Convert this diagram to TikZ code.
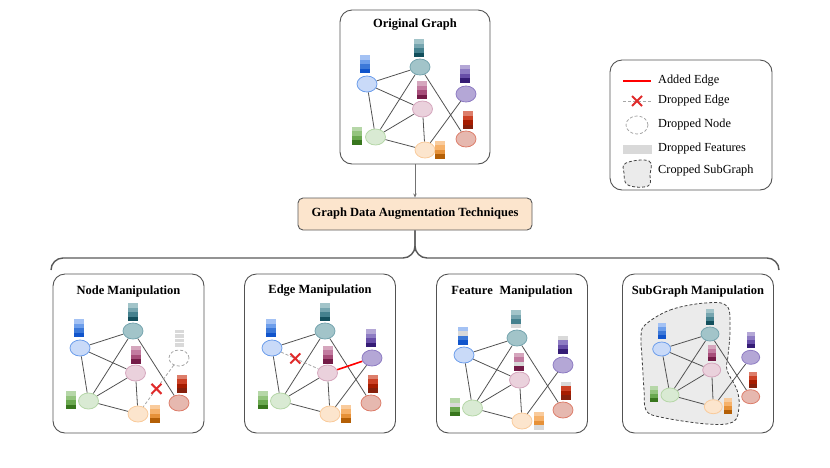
\documentclass[tikz,border=0pt]{standalone}
\usepackage{fontspec}
\setmainfont{Liberation Serif}
\usetikzlibrary{shapes.geometric,arrows.meta,calc}
\definecolor{b1}{HTML}{A4C2F4}\definecolor{b2}{HTML}{6D9EEB}\definecolor{b3}{HTML}{3C78D8}\definecolor{b4}{HTML}{1155CC}
\definecolor{t1}{HTML}{A2C4C9}\definecolor{t2}{HTML}{76A5AF}\definecolor{t3}{HTML}{45818E}\definecolor{t4}{HTML}{134F5C}
\definecolor{p1}{HTML}{B4A7D6}\definecolor{p2}{HTML}{8E7CC3}\definecolor{p3}{HTML}{674EA7}\definecolor{p4}{HTML}{351C75}
\definecolor{k1}{HTML}{D5A6BD}\definecolor{k2}{HTML}{C27BA0}\definecolor{k3}{HTML}{A64D79}\definecolor{k4}{HTML}{741B47}
\definecolor{g1}{HTML}{B6D7A8}\definecolor{g2}{HTML}{93C47D}\definecolor{g3}{HTML}{6AA84F}\definecolor{g4}{HTML}{38761D}
\definecolor{o1}{HTML}{F9CB9C}\definecolor{o2}{HTML}{F6B26B}\definecolor{o3}{HTML}{E69138}\definecolor{o4}{HTML}{B45F06}
\definecolor{r1}{HTML}{DD7E6B}\definecolor{r2}{HTML}{CC4125}\definecolor{r3}{HTML}{A61C00}\definecolor{r4}{HTML}{85200C}
\definecolor{dg}{HTML}{D9D9D9}
\definecolor{nbf}{HTML}{C9DAF8}\definecolor{ntf}{HTML}{A2C4C9}\definecolor{npf}{HTML}{B4A7D6}
\definecolor{nkf}{HTML}{EAD1DC}\definecolor{ngf}{HTML}{D9EAD3}\definecolor{nof}{HTML}{FCE5CD}\definecolor{nrf}{HTML}{E6B8AF}
\definecolor{peach}{HTML}{FCE5CD}\definecolor{xred}{HTML}{E02B2B}\definecolor{blobgray}{HTML}{EBEBEB}
\pgfdeclarelayer{blobs}\pgfdeclarelayer{edges}\pgfsetlayers{blobs,edges,main}
\def\bw{10}\def\bh{18}
\newcommand\fbar[6]{\foreach[count=\i] \c in {#3,#4,#5,#6}{\fill[\c] ({#1-\bw/2},{#2-\bh/2+(\i-1)*\bh/4}) rectangle ++(\bw,{\bh/4+0.15});}}
\newcommand\gbar[2]{\foreach \i in {1,2,3,4}{\fill[dg,draw=white,line width=0.25pt] ({#1-\bw/2},{#2-\bh/2+(\i-1)*\bh/4}) rectangle ++(\bw,\bh/4);}}
\newcommand\stdedges[1]{\begin{pgfonlayer}{edges}\draw[gedge] (#1B)--(#1T) (#1B)--(#1G) (#1T)--(#1G) (#1T)--(#1R) (#1K)--(#1G) (#1K)--(#1O) (#1G)--(#1O);\end{pgfonlayer}}
\newcommand\stdnodes[3]{\begin{scope}[shift={(#2,#3)}]
 \node[gnode,nb] (#1B) at (27,74) {};
 \node[gnode,nt] (#1T) at (80,57) {};
 \node[gnode,nk] (#1K) at (82.5,99) {};
 \node[gnode,ng] (#1G) at (35.5,127) {};
 \node[gnode,no] (#1O) at (85,140) {};
 \node[gnode,nr] (#1R) at (126,129) {};
\end{scope}}
\newcommand\xcross[1]{\draw[xmark] ($(#1)+(-5,-5)$) -- ($(#1)+(5,5)$) ($(#1)+(-5,5)$) -- ($(#1)+(5,-5)$);}
\begin{document}
\begin{tikzpicture}[x=1pt,y=-1pt,font=\fontsize{12.3}{14}\selectfont,
 panel/.style={draw=black!68,line width=0.9pt,rounded corners=12pt,inner sep=0pt},
 title/.style={font=\fontsize{12.5}{14}\selectfont\bfseries,inner sep=0pt},
 gnode/.style={ellipse,minimum width=20pt,minimum height=16pt,inner sep=0pt,line width=0.8pt},
 gedge/.style={draw=black!68,line width=0.8pt},
 dropedge/.style={draw=black!35,line width=0.8pt,dash pattern=on 3pt off 2pt},
 addedge/.style={draw=red,line width=1.6pt},
 xmark/.style={draw=xred,line width=2pt},
 brace/.style={draw=black!65,line width=1.4pt,rounded corners=12pt},
 legtext/.style={anchor=west,inner sep=0pt},
 nb/.style={fill=nbf,draw=b2},nt/.style={fill=ntf,draw=t2},np/.style={fill=npf,draw=p2},
 nk/.style={fill=nkf,draw=k1},ng/.style={fill=ngf,draw=g1},no/.style={fill=nof,draw=o1},nr/.style={fill=nrf,draw=r1},
 dropnode/.style={fill=white,draw=black!35,dash pattern=on 3pt off 2pt}]
\useasboundingbox (0,0) rectangle (830,467);

% ---------- Original graph ----------
\node[panel,minimum width=150pt,minimum height=154pt] (orig) at (415,87) {};
\node[title] (origT) at (415,25) {Original Graph};
\stdnodes{o}{340}{10}
\node[gnode,np] (oP) at (466,94) {};
\stdedges{o}
\begin{pgfonlayer}{edges}\draw[gedge] (oB)--(oK) (oP)--(oO);\end{pgfonlayer}
\begin{scope}[shift={(340,10)}]
 \fbar{25}{54}{b1}{b2}{b3}{b4}
 \fbar{79}{38}{t1}{t2}{t3}{t4}
 \fbar{125}{63.5}{p1}{p2}{p3}{p4}
 \fbar{82}{80}{k1}{k2}{k3}{k4}
 \fbar{17}{125.5}{g1}{g2}{g3}{g4}
 \fbar{100}{139.5}{o1}{o2}{o3}{o4}
 \fbar{128}{110}{r1}{r2}{r3}{r4}
\end{scope}

% ---------- central box and brace ----------
\node[draw=black!65,line width=0.9pt,fill=peach,rounded corners=5pt,minimum width=234pt,minimum height=32pt,font=\fontsize{12.5}{14}\selectfont\bfseries] (gda) at (415,214) {Graph Data Augmentation Techniques};
\draw[draw=black!55,line width=0.8pt,-{Stealth[length=4pt,width=3.5pt]}] (orig.south) -- (gda.north);
\coordinate (brL) at (51,270);
\coordinate (brR) at (779,270);
\coordinate (brM) at (415,258);
\draw[brace] (brL) |- (brM) -- (gda.south);
\draw[brace] (brR) |- (brM) -- (gda.south);

% ---------- Legend ----------
\node[panel,minimum width=162pt,minimum height=130pt] (leg) at (691,125) {};
\coordinate (la1) at (623,81); \coordinate (la2) at (651,81);
\draw[addedge] (la1) -- (la2);
\node[legtext] (lt1) at (658,81) {Added Edge};
\coordinate (ld1) at (623,101); \coordinate (ld2) at (651,101); \coordinate (ldx) at (637,101);
\draw[dropedge] (ld1) -- (ld2);
\xcross{ldx}
\node[legtext] (lt2) at (658,101) {Dropped Edge};
\node[ellipse,minimum width=22pt,minimum height=18pt,inner sep=0pt,line width=0.8pt,dropnode] (lnode) at (637,125) {};
\node[legtext] (lt3) at (658,125) {Dropped Node};
\fill[dg] (623,145) rectangle (652,154);
\node[legtext] (lt4) at (658,149) {Dropped Features};
\draw[fill=blobgray,draw=black!75,line width=0.8pt,dash pattern=on 3pt off 2pt] plot[smooth cycle,tension=0.7] coordinates {(626,163) (649,161) (650,175) (648,186) (628,185) (624,173)};
\node[legtext] (lt5) at (658,171) {Cropped SubGraph};

% ---------- Node manipulation ----------
\node[panel,minimum width=151pt,minimum height=159pt] (pn) at (128.5,353.5) {};
\node[title] (pnT) at (128.5,291) {Node Manipulation};
\stdnodes{n}{53}{274}
\node[gnode,dropnode] (nP) at (179,358) {};
\stdedges{n}
\begin{pgfonlayer}{edges}\draw[gedge] (nB)--(nK); \draw[dropedge] (nP)--(nO);\end{pgfonlayer}
\coordinate (nX) at ($(nO)!0.45!(nP)$);
\xcross{nX}
\begin{scope}[shift={(53,274)}]
 \fbar{26}{54}{b1}{b2}{b3}{b4}
 \fbar{80}{38}{t1}{t2}{t3}{t4}
 \gbar{126}{64}
 \fbar{83}{80.5}{k1}{k2}{k3}{k4}
 \fbar{18}{126}{g1}{g2}{g3}{g4}
 \fbar{102}{139.5}{o1}{o2}{o3}{o4}
 \fbar{129}{109.5}{r1}{r2}{r3}{r4}
\end{scope}

% ---------- Edge manipulation ----------
\node[panel,minimum width=151pt,minimum height=159pt] (pe) at (320,353.5) {};
\node[title] (peT) at (320,291) {Edge Manipulation};
\stdnodes{e}{245}{274}
\node[gnode,np] (eP) at (372,358) {};
\stdedges{e}
\begin{pgfonlayer}{edges}\draw[gedge] (eP)--(eO); \draw[dropedge] (eB)--(eK); \draw[addedge] (eK)--(eP);\end{pgfonlayer}
\coordinate (eX) at ($(eB)!0.42!(eK)$);
\xcross{eX}
\begin{scope}[shift={(245,274)}]
 \fbar{25.5}{54}{b1}{b2}{b3}{b4}
 \fbar{79.5}{38}{t1}{t2}{t3}{t4}
 \fbar{126}{64}{p1}{p2}{p3}{p4}
 \fbar{82.5}{80.5}{k1}{k2}{k3}{k4}
 \fbar{17.5}{126}{g1}{g2}{g3}{g4}
 \fbar{100.5}{139.5}{o1}{o2}{o3}{o4}
 \fbar{127.5}{109.5}{r1}{r2}{r3}{r4}
\end{scope}

% ---------- Feature manipulation ----------
\node[panel,minimum width=151pt,minimum height=159pt] (pf) at (512,353.5) {};
\node[title] (pfT) at (512,291) {Feature\hspace{0.55em}Manipulation};
\stdnodes{f}{437}{281}
\node[gnode,np] (fP) at (563,365) {};
\stdedges{f}
\begin{pgfonlayer}{edges}\draw[gedge] (fB)--(fK) (fP)--(fO);\end{pgfonlayer}
\begin{scope}[shift={(437,281)}]
 \fbar{25.5}{54.5}{b1}{dg}{b3}{b4}
 \fbar{79}{38}{t1}{t2}{t3}{dg}
 \fbar{125.5}{63.5}{dg}{p2}{p3}{p4}
 \fbar{81.5}{80.5}{k1}{k2}{dg}{k4}
 \fbar{18}{126}{g1}{dg}{g3}{g4}
 \fbar{101.5}{139.5}{o1}{o2}{o3}{dg}
 \fbar{128.5}{109.5}{dg}{r2}{r3}{r4}
\end{scope}

% ---------- SubGraph manipulation ----------
\node[panel,minimum width=151pt,minimum height=159pt] (ps) at (698,353.5) {};
\node[title] (psT) at (698,291) {SubGraph Manipulation};
\begin{pgfonlayer}{blobs}
\draw[fill=blobgray,draw=black!75,line width=0.8pt,dash pattern=on 3pt off 2pt] plot[smooth cycle,tension=0.6] coordinates {(645,325) (670,310) (705,303) (727,306) (730,330) (728,356) (727,370) (737,390) (739,407) (733,422) (707,424) (660,417) (646,410) (644,390) (642,357) (641,337)};
\end{pgfonlayer}
\begin{scope}[gnode/.append style={minimum width=18pt,minimum height=14pt}]
 \node[gnode,nb] (sB) at (661.7,349) {};
 \node[gnode,nt] (sT) at (710,334) {};
 \node[gnode,np] (sP) at (750.7,357.3) {};
 \node[gnode,nk] (sK) at (711.7,370) {};
 \node[gnode,ng] (sG) at (670,395) {};
 \node[gnode,no] (sO) at (713.3,406.7) {};
 \node[gnode,nr] (sR) at (750.7,396.7) {};
\end{scope}
\stdedges{s}
\begin{pgfonlayer}{edges}\draw[gedge] (sB)--(sK) (sP)--(sO);\end{pgfonlayer}
\def\bw{8}\def\bh{16}
\fbar{661.7}{331.3}{b1}{b2}{b3}{b4}
\fbar{710}{316.7}{t1}{t2}{t3}{t4}
\fbar{750.5}{340}{p1}{p2}{p3}{p4}
\fbar{712.3}{353}{k1}{k2}{k3}{k4}
\fbar{654.3}{394}{g1}{g2}{g3}{g4}
\fbar{728.3}{406}{o1}{o2}{o3}{o4}
\fbar{752.8}{380}{r1}{r2}{r3}{r4}
\end{tikzpicture}
\end{document}
